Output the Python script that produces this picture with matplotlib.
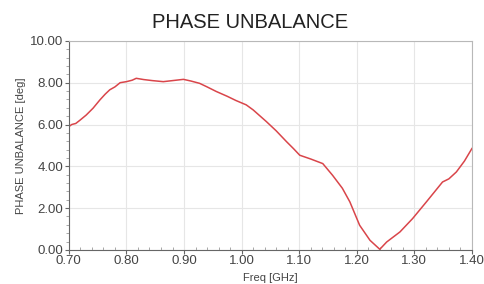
import matplotlib
matplotlib.use("Agg")
import matplotlib.pyplot as plt
from matplotlib.ticker import MultipleLocator, FormatStrFormatter

freq = [0.700, 0.705, 0.712, 0.719, 0.730, 0.742, 0.754, 0.763, 0.771, 0.780, 0.789,
        0.800, 0.810, 0.817, 0.830, 0.845, 0.864, 0.880, 0.899, 0.912, 0.927,
        0.940, 0.956, 0.975, 0.990, 1.008, 1.020, 1.043, 1.060, 1.078, 1.090,
        1.101, 1.120, 1.141, 1.158, 1.175, 1.188, 1.205, 1.223, 1.240, 1.252,
        1.275, 1.297, 1.321, 1.349, 1.360, 1.373, 1.387, 1.400]
unbal = [5.90, 6.00, 6.05, 6.20, 6.45, 6.78, 7.18, 7.45, 7.66, 7.80, 8.00,
         8.05, 8.12, 8.21, 8.15, 8.10, 8.05, 8.10, 8.16, 8.08, 7.97,
         7.80, 7.58, 7.35, 7.15, 6.94, 6.70, 6.14, 5.70, 5.18, 4.85,
         4.53, 4.35, 4.13, 3.57, 2.95, 2.30, 1.18, 0.46, 0.03, 0.38,
         0.86, 1.50, 2.30, 3.25, 3.40, 3.73, 4.25, 4.85]

xticks = [0.70, 0.80, 0.90, 1.00, 1.10, 1.20, 1.30, 1.40]
yticks = [0.0, 2.0, 4.0, 6.0, 8.0, 10.0]

plt.rcParams['font.family'] = ['Liberation Sans', 'DejaVu Sans']

fig = plt.figure(figsize=(4.85, 2.84), dpi=100)
ax = fig.add_axes([0.142, 0.120, 0.831, 0.736])
ax.plot(freq, unbal, color='#d9454a', linewidth=1.1)
ax.set_xlim(0.70, 1.40)
ax.set_ylim(0, 10)
ax.set_xticks(xticks)
ax.set_yticks(yticks)
ax.xaxis.set_major_formatter(FormatStrFormatter('%.2f'))
ax.yaxis.set_major_formatter(FormatStrFormatter('%.2f'))
ax.xaxis.set_minor_locator(MultipleLocator(0.02))
ax.yaxis.set_minor_locator(MultipleLocator(0.4))
ax.grid(True, which='major', color='#e6e6e6', linewidth=0.8)
ax.tick_params(which='major', length=3, color='#666666', labelsize=9.5,
               labelcolor='#444444', pad=1)
ax.tick_params(axis='x', which='minor', length=2, color='#999999', direction='in')
ax.tick_params(axis='y', which='minor', length=2, color='#999999')
for s in ['left', 'bottom']:
    ax.spines[s].set_color('#666666')
for s in ['right', 'top']:
    ax.spines[s].set_color('#b8b8b8')
ax.set_xlabel('Freq [GHz]', fontsize=8, color='#444444', labelpad=4)
ax.set_ylabel('PHASE UNBALANCE [deg]', fontsize=8, color='#444444', labelpad=3)
fig.text(0.515, 0.922, 'PHASE UNBALANCE', ha='center', va='center', fontsize=14.5,
         color='#222222')
fig.savefig('out.png', dpi=100)
